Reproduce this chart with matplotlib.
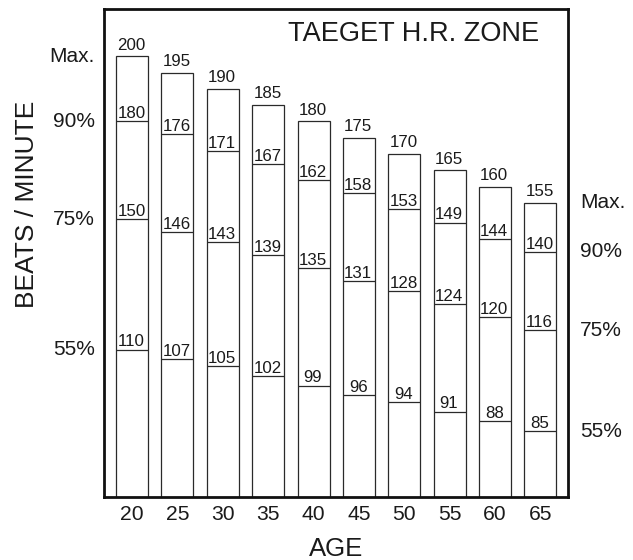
import numpy as np
import matplotlib
matplotlib.use("Agg")
import matplotlib.pyplot as plt
import matplotlib.transforms as mtrans

plt.rcParams['font.family'] = ['Liberation Sans', 'DejaVu Sans']

# data
ages = [20, 25, 30, 35, 40, 45, 50, 55, 60, 65]
hr_max = [200, 195, 190, 185, 180, 175, 170, 165, 160, 155]
hr_90 = [180, 176, 171, 167, 162, 158, 153, 149, 144, 140]
hr_75 = [150, 146, 143, 139, 135, 131, 128, 124, 120, 116]
hr_55 = [110, 107, 105, 102, 99, 96, 94, 91, 88, 85]
zone_names = ['Max.', '90%', '75%', '55%']

fig = plt.figure(figsize=(6.33, 5.6), dpi=100)
ax = fig.add_axes([0.1643, 0.113, 0.733, 0.8704])

x = np.arange(len(ages))
width = 0.705
edge = '#2a2a2a'

ax.bar(x, hr_max, width=width, bottom=0, color='white', edgecolor=edge, linewidth=0.9, zorder=2)

# zone lines inside each bar
for level in (hr_90, hr_75, hr_55):
    ax.hlines(level, x - width / 2, x + width / 2, color=edge, linewidth=0.9, zorder=3)
    for xi, v in zip(x, level):
        ax.annotate(str(v), (xi, v), xytext=(-0.5, 2.3), textcoords='offset points',
                    ha='center', va='baseline', fontsize=12.2, color='#1a1a1a')

# max values above the bars
for xi, v in zip(x, hr_max):
    ax.annotate(str(v), (xi, v), xytext=(-0.5, 4.8), textcoords='offset points',
                ha='center', va='baseline', fontsize=12.2, color='#1a1a1a')

ax.set_xlim(-0.62, 9.61)
ax.set_ylim(64.9, 214.4)
ax.set_xticks(x)
ax.set_xticklabels([str(a) for a in ages], fontsize=15.2, color='#1a1a1a')
ax.tick_params(axis='x', length=0, pad=6)
ax.set_yticks([])
for sp in ax.spines.values():
    sp.set_linewidth(2)
    sp.set_color('#111111')

# zone names on both sides
trans = mtrans.blended_transform_factory(ax.transAxes, ax.transData)
levels = [hr_max, hr_90, hr_75, hr_55]
for name, lv in zip(zone_names, levels):
    ax.text(-0.0194, lv[0], name, transform=trans, ha='right', va='center',
            fontsize=15, color='#1a1a1a')
    ax.text(1.0259, lv[-1], name, transform=trans, ha='left', va='center',
            fontsize=15, color='#1a1a1a')

ax.text(0.667, 0.95, 'TAEGET H.R. ZONE', transform=ax.transAxes, ha='center',
        va='center', fontsize=19.5, color='#1a1a1a')
ax.text(-0.166, 0.60, 'BEATS / MINUTE', transform=ax.transAxes, rotation=90,
        ha='center', va='center', fontsize=19, color='#1a1a1a')
ax.text(0.5, -0.107, 'AGE', transform=ax.transAxes, ha='center', va='center',
        fontsize=18.5, color='#1a1a1a')

fig.savefig('out.png', dpi=100)
